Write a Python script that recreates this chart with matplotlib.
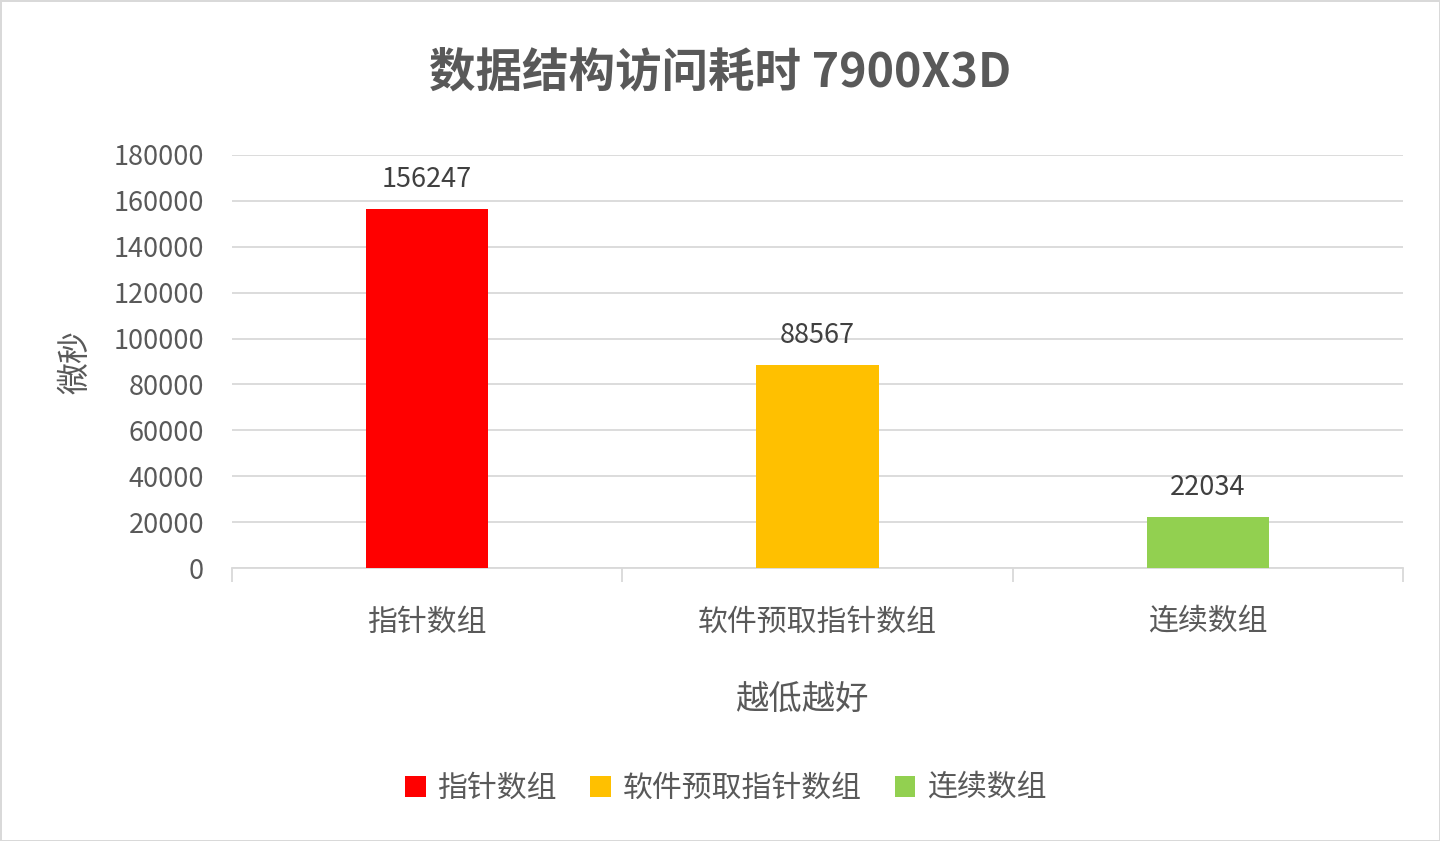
import numpy as np
import matplotlib
matplotlib.use("Agg")
import matplotlib.pyplot as plt
from matplotlib.patches import Patch

plt.rcParams['font.family'] = ['Noto Sans CJK SC', 'DejaVu Sans']

# data
categories = ['指针数组', '软件预取指针数组', '连续数组']
values = [156247, 88567, 22034]
colors = ['#FF0000', '#FFC000', '#92D050']
yticks = [0, 20000, 40000, 60000, 80000, 100000, 120000, 140000, 160000, 180000]

txt = '#595959'
grid = '#D9D9D9'

fig = plt.figure(figsize=(14.4, 8.41), dpi=100)
fig.patch.set_edgecolor('#D9D9D9')
fig.patch.set_linewidth(2)

ax = fig.add_axes([0.1611, 0.3246, 0.8132, 0.4911])
x = np.arange(len(categories))
bars = ax.bar(x, values, width=0.313, color=colors, zorder=3)

for xi, v in zip(x, values):
    ax.text(xi, v + 7000, str(v), ha='center', va='bottom', fontsize=19.5, color='#404040')

ax.set_xlim(-0.5, 2.5)
ax.set_ylim(0, 180000)
ax.set_yticks(yticks)
ax.set_yticklabels([str(t) for t in yticks], fontsize=19.5, color=txt)
ax.yaxis.grid(True, color=grid, linewidth=1.3, zorder=0)
ax.tick_params(axis='y', length=0, pad=20)

ax.set_xticks([-0.5, 0.5, 1.5, 2.5])
ax.set_xticklabels([])
ax.tick_params(axis='x', length=10, width=1.3, color=grid, direction='out')
ax.set_xticks(x, minor=True)
ax.set_xticklabels(categories, minor=True, fontsize=21.5, color=txt)
ax.tick_params(axis='x', which='minor', length=0, pad=28)

for s in ['top', 'right', 'left']:
    ax.spines[s].set_visible(False)
ax.spines['bottom'].set_color(grid)
ax.spines['bottom'].set_linewidth(1.3)

ax.set_xlabel('越低越好', fontsize=24, color=txt)
ax.xaxis.set_label_coords(0.487, -0.279)
ax.set_ylabel('微秒', fontsize=23, color=txt, labelpad=16)

fig.text(0.5, 0.913, '数据结构访问耗时 7900X3D', ha='center', va='center',
         fontsize=33.5, fontweight='bold', color=txt)

handles = [Patch(facecolor=c) for c in colors]
fig.legend(handles, categories, loc='center', bbox_to_anchor=(0.504, 0.063), ncol=3,
           frameon=False, fontsize=21.5, labelcolor=txt, handlelength=0.7,
           handleheight=0.7, handletextpad=0.4, columnspacing=1.1)

fig.savefig('out.png', dpi=100, edgecolor=fig.get_edgecolor())
